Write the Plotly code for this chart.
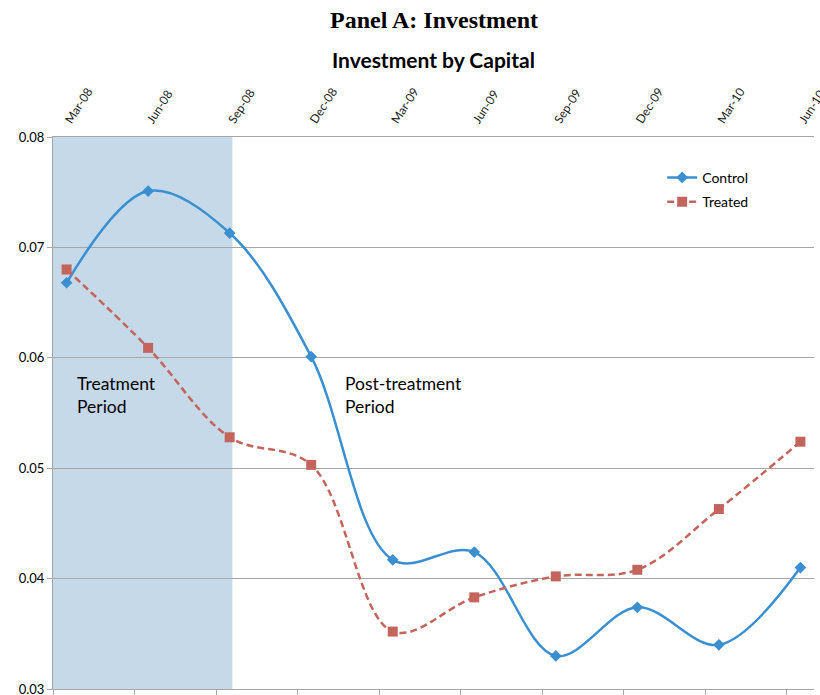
import plotly.graph_objects as go

categories = ["Mar-08", "Jun-08", "Sep-08", "Dec-08", "Mar-09",
              "Jun-09", "Sep-09", "Dec-09", "Mar-10", "Jun-10"]
control = [0.0668, 0.0751, 0.0713, 0.0601, 0.0417,
           0.0424, 0.0330, 0.0374, 0.0340, 0.0410]
treated = [0.0680, 0.0609, 0.0528, 0.0503, 0.0352,
           0.0383, 0.0402, 0.0408, 0.0463, 0.0524]
y_ticks = [0.03, 0.04, 0.05, 0.06, 0.07, 0.08]

# monthly date axis: each category is a quarter start month; point sits mid-month
months_per_step = 3
xpos = [i * months_per_step + 0.5 for i in range(len(categories))]
x_range = [0, len(categories) * months_per_step - 2]
treatment_end = 6.6

FONT = "Lato"
GRID = "#a6a6a6"
BLUE = "#3a8fd0"
RED = "#c3645d"

fig = go.Figure()

fig.add_shape(type="rect", xref="x", yref="paper", x0=0, x1=treatment_end,
              y0=0, y1=1, fillcolor="#c6d9e8", line_width=0, layer="below")

fig.add_trace(go.Scatter(
    x=xpos, y=control, name="Control", mode="lines+markers", legendgroup="c",
    line=dict(color=BLUE, width=2.5, shape="spline", smoothing=1.0),
    marker=dict(symbol="diamond", size=9, color=BLUE),
))
fig.add_trace(go.Scatter(
    x=xpos, y=treated, name="Treated", mode="lines+markers", legendgroup="t",
    line=dict(color=RED, width=2.5, shape="spline", smoothing=1.0, dash="7px,4px"),
    marker=dict(symbol="square", size=10, color=RED),
))
# invisible trace to carry the top category axis
fig.add_trace(go.Scatter(
    x=xpos, y=control, xaxis="x2", mode="markers",
    marker=dict(opacity=0), showlegend=False, hoverinfo="skip",
))

fig.add_annotation(text="<b>Panel A: Investment</b>", xref="paper", yref="paper",
                   x=0.5, y=1, yshift=117, xanchor="center", yanchor="middle", showarrow=False,
                   font=dict(family="Liberation Serif", size=24, color="black"))
fig.add_annotation(text="<b>Investment by Capital</b>", xref="paper", yref="paper",
                   x=0.5, y=1, yshift=78, xanchor="center", yanchor="middle", showarrow=False,
                   font=dict(family=FONT, size=21, color="black"))
fig.add_annotation(text="Treatment<br>Period", xref="paper", yref="y",
                   x=(75 - 53) / 761, y=0.0566, xanchor="left", yanchor="middle",
                   showarrow=False, align="left",
                   font=dict(family=FONT, size=17.5, color="black"))
fig.add_annotation(text="Post-treatment<br>Period", xref="paper", yref="y",
                   x=(343 - 53) / 761, y=0.0566, xanchor="left", yanchor="middle",
                   showarrow=False, align="left",
                   font=dict(family=FONT, size=17.5, color="black"))

fig.update_layout(
    width=820, height=695,
    margin=dict(l=53, r=6, t=137, b=6, autoexpand=False),
    paper_bgcolor="white", plot_bgcolor="white",
    font=dict(family=FONT, size=13, color="black"),
    showlegend=True,
    legend=dict(x=0.8005, y=0.955, xanchor="left", yanchor="top",
                traceorder="grouped", tracegroupgap=3,
                bgcolor="rgba(0,0,0,0)", font=dict(family=FONT, size=14)),
    xaxis=dict(range=x_range, tickmode="array", automargin=False,
               tickvals=[i * months_per_step for i in range(len(categories))],
               showticklabels=False, ticks="outside", ticklen=5, tickcolor=GRID,
               showgrid=False, showline=True, linecolor=GRID, linewidth=1,
               zeroline=False),
    xaxis2=dict(range=x_range, overlaying="x", side="top", tickmode="array",
                automargin=False, ticklabeloverflow="allow",
                tickvals=xpos, ticktext=categories, tickangle=-57,
                ticks="outside", ticklen=4, tickcolor="rgba(0,0,0,0)",
                showgrid=False, showline=True, linecolor=GRID, zeroline=False,
                tickfont=dict(family=FONT, size=12, color="#222")),
    yaxis=dict(range=[0.03, 0.08], tickmode="array", tickvals=y_ticks,
               automargin=False, ticklabeloverflow="allow",
               tickformat=".2f", ticks="outside", ticklen=5, tickcolor=GRID,
               showgrid=True, gridcolor=GRID, gridwidth=1,
               showline=True, linecolor=GRID, zeroline=False,
               tickfont=dict(family=FONT, size=13)),
)

fig.write_html(
    "out.html",
    config={"displayModeBar": False},
    post_script="document.body.style.margin='0';document.body.style.overflow='hidden';",
)
